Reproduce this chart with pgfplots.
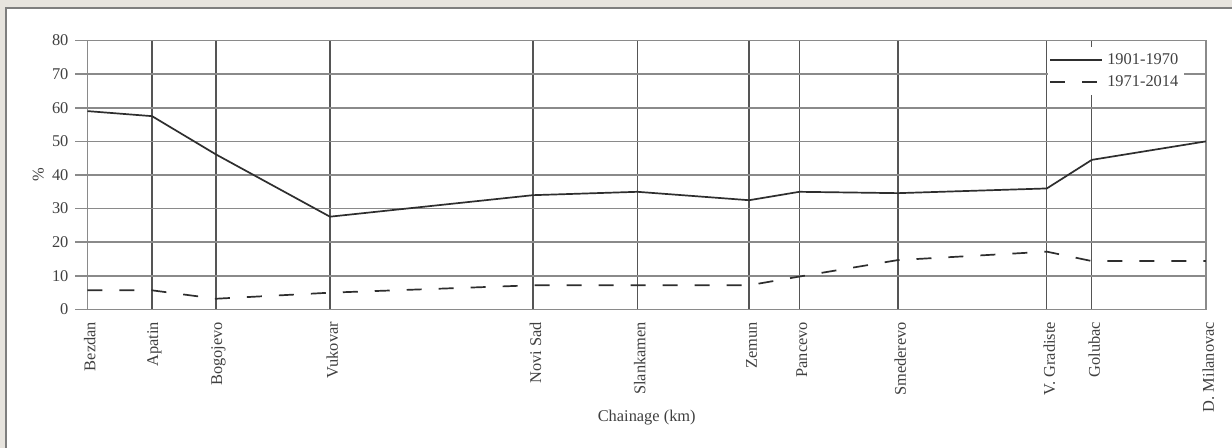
\documentclass[border=0pt]{standalone}
\usepackage{fontspec}
\setmainfont{Liberation Serif}
\usepackage{pgfplots}
\pgfplotsset{compat=1.18}
\definecolor{bgc}{HTML}{E7E4DE}
\definecolor{framec}{HTML}{7E7E7E}
\definecolor{gridh}{HTML}{8A8A8A}
\definecolor{gridv}{HTML}{555555}
\definecolor{labc}{HTML}{404040}
\definecolor{linec}{HTML}{2E2E2E}
\newcommand{\lf}{\fontsize{8.2}{9.4}\selectfont}
\begin{document}
\begin{tikzpicture}
\useasboundingbox (0,0) rectangle (616pt,224pt);
\fill[bgc] (0,0) rectangle (616pt,224pt);
\fill[white] (3pt,0) rectangle (616pt,220pt);
\draw[framec, line width=1pt] (3pt,0) -- (3pt,220pt) -- (616pt,220pt);
\begin{axis}[
  at={(43.75pt,69.25pt)}, anchor=south west,
  scale only axis, width=559.25pt, height=134.5pt,
  x dir=reverse, xmin=990, xmax=1425, ymin=0, ymax=80,
  xtick={1425,1399.9,1375.0,1330.7,1251.7,1211.1,1167.7,1148.1,1109.8,1051.9,1034.4,990},
  xticklabels={Bezdan,Apatin,Bogojevo,Vukovar,Novi Sad,Slankamen,Zemun,Pancevo,Smederevo,V. Gradiste,Golubac,D. Milanovac},
  ytick={0,10,...,80},
  xmajorgrids, ymajorgrids,
  x grid style={draw=gridv, line width=0.65pt},
  y grid style={draw=gridh, line width=0.85pt},
  axis line style={draw=gridh, line width=0.85pt},
  xtick style={draw=none},
  ytick style={draw=gridh, line width=0.85pt},
  tick align=outside, major tick length=6pt,
  ytick pos=left, xtick pos=bottom,
  /pgf/number format/assume math mode=true,
  x tick label style={rotate=90, anchor=east, font=\lf, text=labc, inner sep=0pt, yshift=-1.2pt},
  y tick label style={font=\lf, text=labc},
  xlabel={Chainage (km)}, ylabel={\%},
  every axis x label/.style={at={(axis description cs:0.5,-0.40)}, anchor=center, font=\lf, text=labc},
  every axis y label/.style={at={(axis description cs:-0.044,0.5)}, anchor=center, rotate=90, font=\lf, text=labc},
  legend style={at={(axis description cs:0.981,0.976)}, anchor=north east, draw=none, fill=white, font=\lf, text=labc, inner sep=1pt, row sep=0pt},
  legend cell align=left,
  legend image code/.code={\draw[#1] (0pt,0pt) -- (23.5pt,0pt); \path (0pt,0pt) -- (26pt,0pt);},
]
\addplot[linec, line width=0.85pt] coordinates {
  (1425,59.0) (1399.9,57.5) (1375.0,46.1) (1330.7,27.6) (1251.7,34.0) (1211.1,35.0)
  (1167.7,32.5) (1148.1,35.0) (1109.8,34.6) (1051.9,36.0) (1034.4,44.5) (990,50.0)
};
\addlegendentry{1901-1970}
\addplot[linec, line width=0.85pt, dash pattern=on 7.5pt off 8.5pt] coordinates {
  (1425,5.7) (1399.9,5.7) (1375.0,3.2) (1330.7,5.0) (1251.7,7.2) (1211.1,7.2)
  (1167.7,7.2) (1148.1,9.8) (1109.8,14.7) (1051.9,17.2) (1034.4,14.4) (990,14.4)
};
\addlegendentry{1971-2014}
\end{axis}
\end{tikzpicture}
\end{document}
